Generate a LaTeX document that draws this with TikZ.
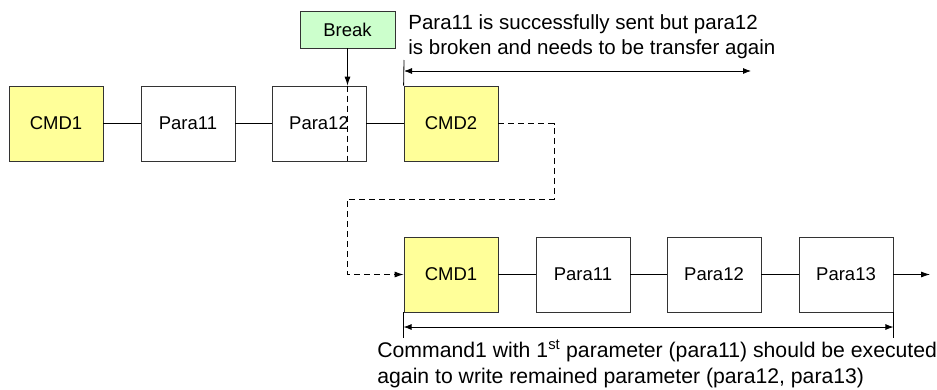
\documentclass[tikz,border=0pt]{standalone}
\usepackage{fontspec}
\setmainfont{Liberation Sans}
\usetikzlibrary{arrows.meta}
\definecolor{cmdyellow}{HTML}{FFFF99}
\definecolor{brkgreen}{HTML}{CCFFCC}
\tikzset{
  pbox/.style={draw=black!80, fill=white, minimum width=94pt, minimum height=75pt, inner sep=0pt, font=\fontsize{18.5}{22}\selectfont},
  cbox/.style={pbox, fill=cmdyellow},
  dimarrow/.style={{Latex[length=8pt,width=6pt]}-{Latex[length=8pt,width=6pt]}},
  jump/.style={dashed, dash pattern=on 6pt off 4pt},
}
\begin{document}
\begin{tikzpicture}[x=1pt,y=-1pt,line width=0.8pt,>={Latex[length=9pt,width=6pt]}]
\useasboundingbox (0,0) rectangle (937,389);
% first command, broken at para12
 \node[cbox] (cmdA) at (56,123.5) {CMD1};
 \node[pbox] (parA1) at (188,123.5) {Para11};
 \node[pbox] (parA2) at (319,123.5) {Para12};
 \node[cbox] (cmdB) at (451,123.5) {CMD2};
 \node[draw=black!80, fill=brkgreen, minimum width=95pt, minimum height=37pt, font=\fontsize{18.5}{22}\selectfont] (break) at (347.5,29.5) {Break};
% command re-sent
 \node[cbox] (cmdC) at (451,274.5) {CMD1};
 \node[pbox] (parC1) at (583,274.5) {Para11};
 \node[pbox] (parC2) at (714,274.5) {Para12};
 \node[pbox] (parC3) at (846,274.5) {Para13};
 \coordinate (out) at (930,274.5);
  \path [-] (cmdA) edge (parA1);
  \path [-] (parA1) edge (parA2);
  \path [-] (parA2) edge (cmdB);
  \path [-] (cmdC) edge (parC1);
  \path [-] (parC1) edge (parC2);
  \path [-] (parC2) edge (parC3);
  \path [->] (parC3) edge (out);
% break point
 \coordinate (brkT) at (break.south |- parA2.north);
 \coordinate (brkB) at (break.south |- parA2.south);
  \path [->] (break.south) edge (brkT);
  \path [-, jump] (brkT) edge (brkB);
% jump back to CMD1
 \coordinate (jr1) at (554,123.5);
 \coordinate (jr2) at (554,199);
 \coordinate (jr3) at (break.south |- jr2);
  \draw [->, jump] (cmdB.east) -- (jr1) -- (jr2) -- (jr3) |- (cmdC.west);
% upper span
 \coordinate (tA) at (404,60);
 \coordinate (tB) at (404,71);
 \coordinate (tC) at (751,71);
  \draw (tA) -- (cmdB.north west);
  \draw [dimarrow] (tB) -- (tC);
 \node[anchor=west, align=left, inner sep=4pt, font=\fontsize{20.5}{25}\selectfont] (txtA) at (404,36.5) {Para11 is successfully sent but para12\\is broken and needs to be transfer again};
% lower span
 \coordinate (bA) at (cmdC.south west |- 0,338);
 \coordinate (bB) at (parC3.south east |- 0,338);
  \draw (cmdC.south west) -- (bA);
  \draw (parC3.south east) -- (bB);
  \draw [dimarrow] (cmdC.south west |- 0,327) -- (parC3.south east |- 0,327);
 \node[anchor=west, align=left, inner sep=3pt, font=\fontsize{21.2}{26}\selectfont] (txtB) at (374,364) {Command1 with 1\textsuperscript{st} parameter (para11) should be executed\\again to write remained parameter (para12, para13)};
\end{tikzpicture}
\end{document}
